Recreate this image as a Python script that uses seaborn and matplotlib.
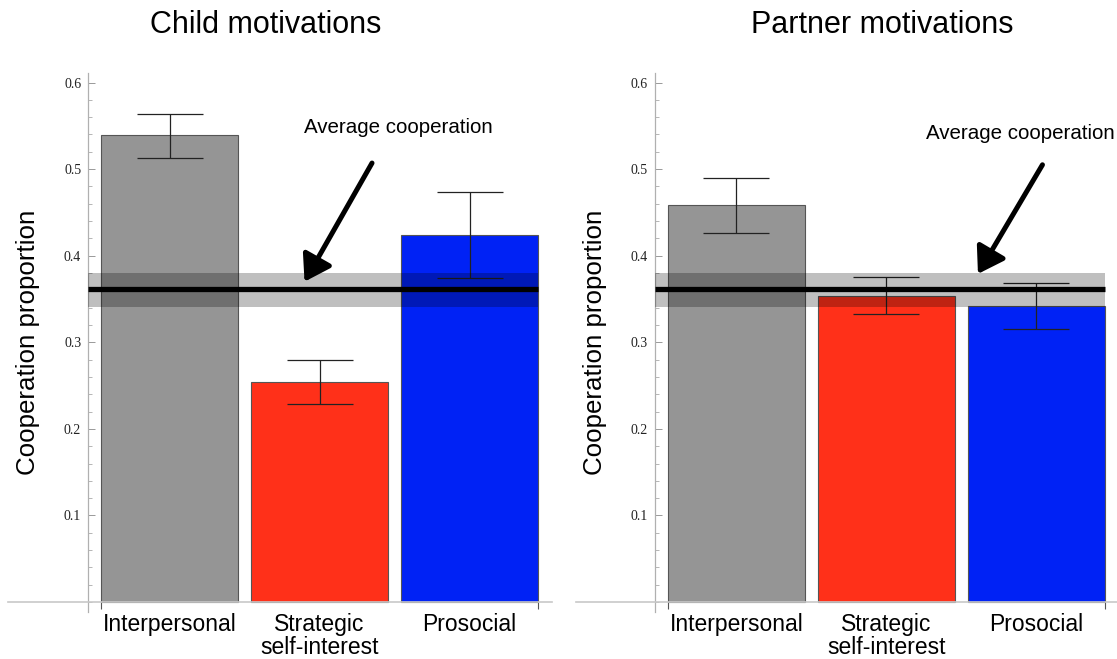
import matplotlib
matplotlib.use("Agg")
import matplotlib.pyplot as plt
from matplotlib.ticker import MultipleLocator, FixedLocator
import seaborn as sns
import pandas as pd

# ---- data ----
categories = ["Interpersonal", "Strategic\nself-interest", "Prosocial"]
bar_colors = ["#959595", "#ff3019", "#0022f5"]

child_means = [0.539, 0.254, 0.424]
child_lower = [0.513, 0.229, 0.374]
child_upper = [0.564, 0.279, 0.473]

partner_means = [0.458, 0.354, 0.342]
partner_lower = [0.426, 0.333, 0.315]
partner_upper = [0.490, 0.375, 0.369]

avg_coop = 0.362
avg_band_low = 0.341
avg_band_high = 0.380

titles = ["Child motivations", "Partner motivations"]
ylabel = "Cooperation proportion"
annot_text = "Average cooperation"
ytick_vals = [0.1, 0.2, 0.3, 0.4, 0.5, 0.6]
ytick_labels = ["0.1", "0.2", "0.3", "0.4", "0.5", "0.6"]

sns.set_theme(style="white")
plt.rcParams["font.family"] = ["Liberation Sans", "DejaVu Sans"]
plt.rcParams["text.color"] = "black"
plt.rcParams["xtick.color"] = "black"
plt.rcParams["ytick.color"] = "black"

W, H = 1117, 659
fig = plt.figure(figsize=(W / 100, H / 100), dpi=100)

BAR_W = 0.913
YAX_X = -0.543


def px_rect(x0, x1, ytop, ybot):
    return [x0 / W, 1 - ybot / H, (x1 - x0) / W, (ybot - ytop) / H]


panels = [
    dict(rect=px_rect(8, 552, 73, 612), xlim=(-1.077, 2.55), means=child_means,
         lo=child_lower, hi=child_upper, arrow_from=(1.35, 0.507), arrow_to=(0.90, 0.370),
         text_xy=(1.523, 0.548), title_x=266, ylab_x=28),
    dict(rect=px_rect(576, 1117, 73, 612), xlim=(-1.07, 2.537), means=partner_means,
         lo=partner_lower, hi=partner_upper, arrow_from=(2.04, 0.505), arrow_to=(1.61, 0.379),
         text_xy=(1.89, 0.541), title_x=882, ylab_x=595),
]

for i, p in enumerate(panels):
    ax = fig.add_axes(p["rect"])
    df = pd.DataFrame({"cat": categories, "val": p["means"]})
    sns.barplot(data=df, x="cat", y="val", hue="cat", palette=bar_colors,
                order=categories, hue_order=categories, width=BAR_W,
                edgecolor="#555555", linewidth=0.8, legend=False, ax=ax,
                saturation=1)
    xs = list(range(len(categories)))
    yerr = [[m - l for m, l in zip(p["means"], p["lo"])],
            [h - m for m, h in zip(p["means"], p["hi"])]]
    ax.errorbar(xs, p["means"], yerr=yerr, fmt="none", ecolor="#222222",
                elinewidth=0.9, capsize=24, capthick=0.9, zorder=5)

    # average band & line
    edge_r = 2 + BAR_W / 2
    ax.fill_between([YAX_X, edge_r], avg_band_low, avg_band_high,
                    color="black", alpha=0.25, linewidth=0, zorder=6)
    ax.plot([YAX_X, edge_r], [avg_coop, avg_coop], color="black", lw=3.8,
            solid_capstyle="butt", zorder=7)

    ax.set_xlim(*p["xlim"])
    ax.set_ylim(-0.0115, 0.611)

    for s in ["top", "right"]:
        ax.spines[s].set_visible(False)
    ax.spines["left"].set_position(("data", YAX_X))
    ax.spines["bottom"].set_position(("data", 0))
    ax.spines["left"].set_color("#b0b0b0")
    ax.spines["bottom"].set_color("#c8c8c8")
    ax.spines["left"].set_linewidth(0.9)
    ax.spines["bottom"].set_linewidth(1.2)

    ax.yaxis.set_major_locator(FixedLocator(ytick_vals))
    ax.set_yticklabels(ytick_labels, fontfamily="Liberation Serif", fontsize=10,
                       color="#222222")
    ax.yaxis.set_minor_locator(MultipleLocator(0.02))
    ax.tick_params(axis="y", which="major", direction="in", length=5, width=0.7,
                   color="#999999", pad=5, left=True)
    ax.tick_params(axis="y", which="minor", direction="in", length=3, width=0.6,
                   color="#aaaaaa", left=True)

    ax.set_xticks(xs)
    ax.set_xticklabels(categories, fontsize=16.5, linespacing=1.0, color="black")
    ax.xaxis.set_minor_locator(FixedLocator([-BAR_W / 2, 2 + BAR_W / 2]))
    ax.tick_params(axis="x", which="major", length=0, pad=8)
    ax.tick_params(axis="x", which="minor", direction="out", length=5, width=0.8,
                   color="#555555", bottom=True)

    ax.set_xlabel("")
    ax.set_ylabel("")

    ax.annotate("", xy=p["arrow_to"], xytext=p["arrow_from"],
                arrowprops=dict(arrowstyle="-|>,head_length=0.7,head_width=0.45",
                                lw=3.6, color="black", shrinkA=0, shrinkB=0,
                                mutation_scale=22), zorder=8)
    ax.text(p["text_xy"][0], p["text_xy"][1], annot_text, ha="center", va="center",
            fontsize=14.8, color="black", zorder=9)

    fig.text(p["title_x"] / W, 1 - 25 / H, titles[i], ha="center", va="center",
             fontsize=22, color="black")
    fig.text(p["ylab_x"] / W, 1 - 342 / H, ylabel, ha="center", va="center",
             rotation=90, fontsize=18.6, color="black")

fig.savefig("out.png", dpi=100)
